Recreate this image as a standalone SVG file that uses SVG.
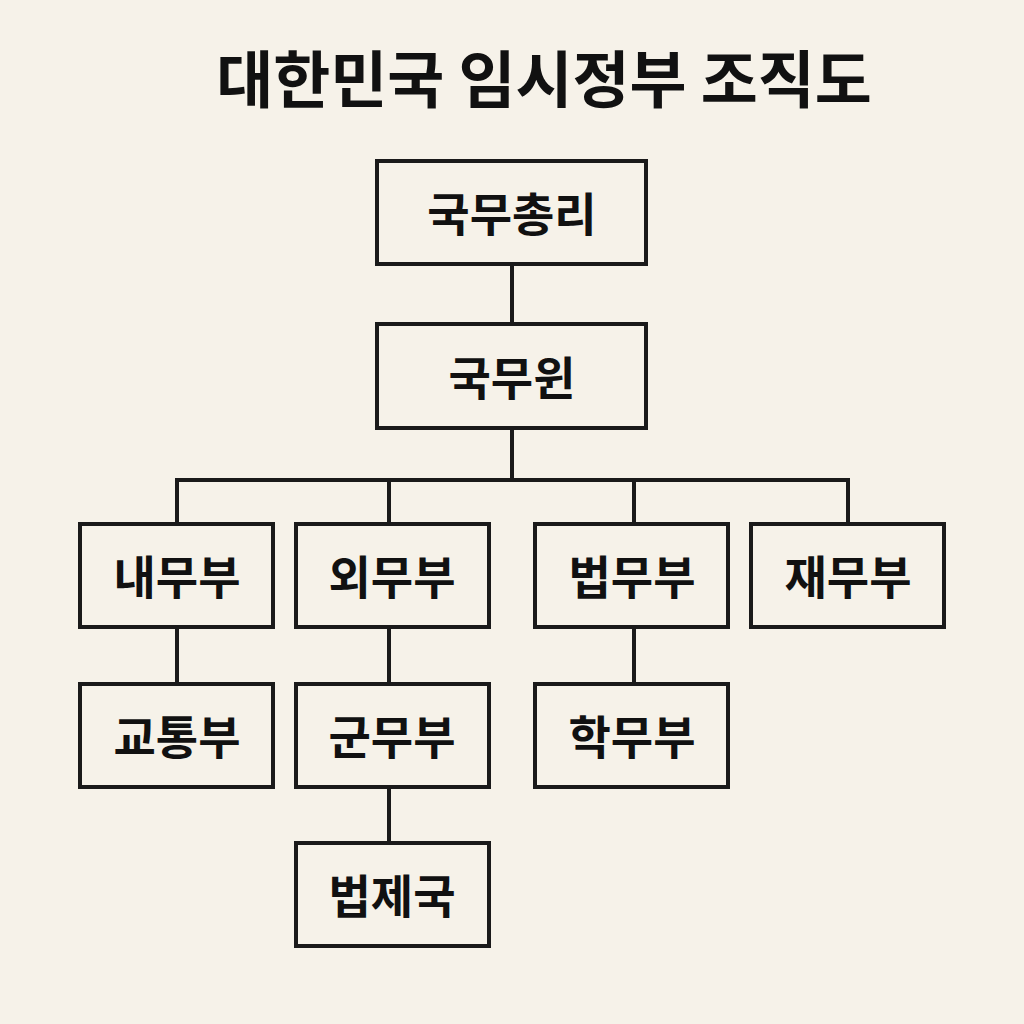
<svg xmlns="http://www.w3.org/2000/svg" width="1024" height="1024" viewBox="0 0 1024 1024">
<style>
.box{fill:#f6f2e9;stroke:#1a1a1a;stroke-width:4}
.lbl{font-family:"Noto Sans CJK KR","Noto Sans",sans-serif;font-weight:bold;font-size:46px;fill:#111;text-anchor:middle;dominant-baseline:central}
.title{font-family:"Noto Sans CJK KR","Noto Sans",sans-serif;font-weight:bold;font-size:62px;fill:#111;text-anchor:middle;dominant-baseline:central}
.conn{stroke:#1a1a1a;stroke-width:4;fill:none}
</style>
<rect width="1024" height="1024" fill="#f6f2e9"/>
<text class="title" x="544" y="76">대한민국 임시정부 조직도</text>
<g id="connectors">
<line class="conn" x1="512" y1="264" x2="512" y2="324"/>
<line class="conn" x1="512" y1="428" x2="512" y2="480"/>
<polyline class="conn" points="177,524 177,480 848,480 848,524"/>
<line class="conn" x1="389" y1="480" x2="389" y2="524"/>
<line class="conn" x1="634" y1="480" x2="634" y2="524"/>
<line class="conn" x1="177" y1="627" x2="177" y2="684"/>
<line class="conn" x1="389" y1="627" x2="389" y2="684"/>
<line class="conn" x1="634" y1="627" x2="634" y2="684"/>
<line class="conn" x1="389" y1="787" x2="389" y2="843"/>
</g>
<g id="n1"><rect class="box" x="377" y="161" width="269" height="103"/><text class="lbl" x="512" y="211">국무총리</text></g>
<g id="n2"><rect class="box" x="377" y="324" width="269" height="104"/><text class="lbl" x="512" y="375">국무윈</text></g>
<g id="n3"><rect class="box" x="80" y="524" width="193" height="103"/><text class="lbl" x="177" y="574">내무부</text></g>
<g id="n4"><rect class="box" x="296" y="524" width="193" height="103"/><text class="lbl" x="392" y="574">외무부</text></g>
<g id="n5"><rect class="box" x="535" y="524" width="193" height="103"/><text class="lbl" x="632" y="574">법무부</text></g>
<g id="n6"><rect class="box" x="751" y="524" width="193" height="103"/><text class="lbl" x="848" y="574">재무부</text></g>
<g id="n7"><rect class="box" x="80" y="684" width="193" height="103"/><text class="lbl" x="177" y="734">교통부</text></g>
<g id="n8"><rect class="box" x="296" y="684" width="193" height="103"/><text class="lbl" x="392" y="734">군무부</text></g>
<g id="n9"><rect class="box" x="535" y="684" width="193" height="103"/><text class="lbl" x="632" y="734">학무부</text></g>
<g id="n10"><rect class="box" x="296" y="843" width="193" height="103"/><text class="lbl" x="392" y="893">법제국</text></g>
</svg>
